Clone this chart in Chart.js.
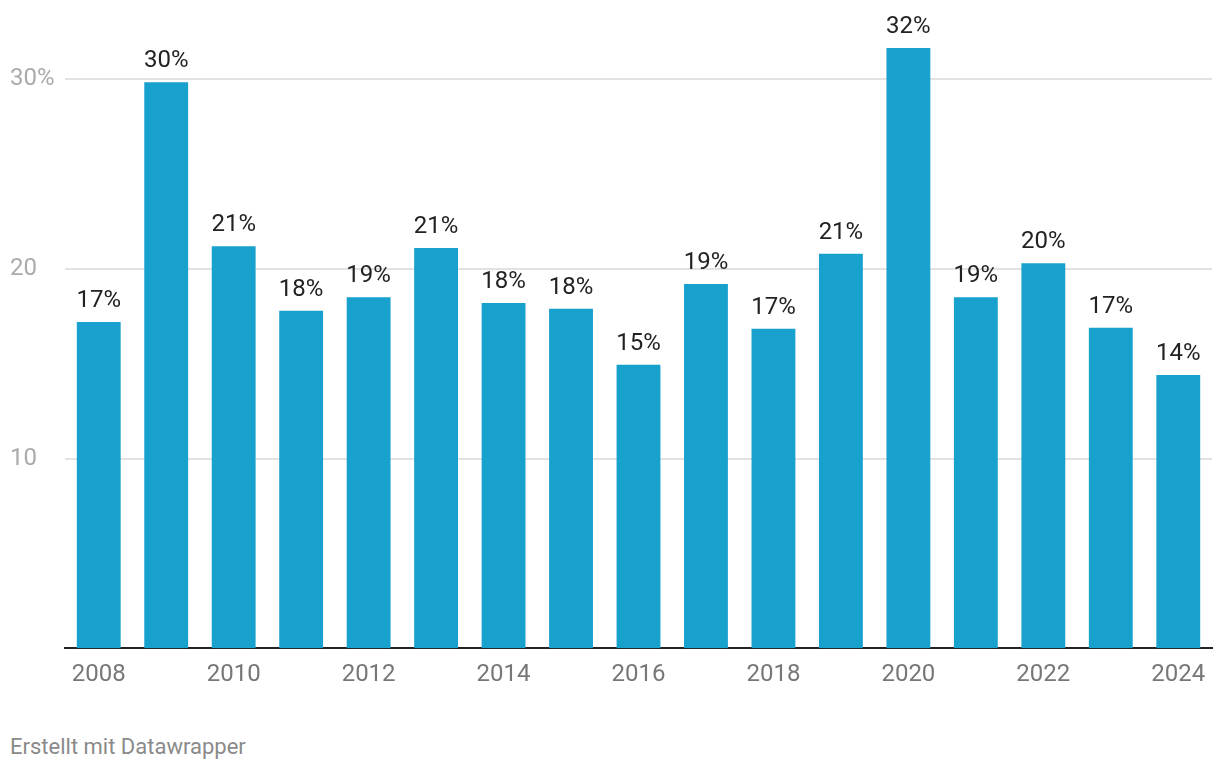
<!DOCTYPE html>
<html>
<head>
<meta charset="utf-8">
<script src="https://cdn.jsdelivr.net/npm/chart.js@4"></script>
<style>
    body { margin: 0; background: #fff; }
    .wrap { position: relative; width: 1220px; height: 770px; }
    .footer {
        position: absolute; left: 10px; top: 734px;
        font: 22px Roboto, sans-serif; color: #8a8a8a;
    }
</style>
</head>
<body>
<div class="wrap">
    <canvas id="myChart" width="1220" height="711"></canvas>
    <div class="footer">Erstellt mit Datawrapper</div>
</div>
<script>
// Jahre und Werte (in %)
const years = ['2008', '2009', '2010', '2011', '2012', '2013', '2014', '2015', '2016',
    '2017', '2018', '2019', '2020', '2021', '2022', '2023', '2024'];
const shares = [17.2, 29.85, 21.2, 17.8, 18.5, 21.1, 18.2, 17.9, 14.95,
    19.2, 16.85, 20.8, 31.65, 18.5, 20.3, 16.9, 14.4];
const yTicks = [10, 20, 30];

const barColor = '#18a1cd';

// Werte über die Balken schreiben
const valueLabels = {
    id: 'valueLabels',
    afterDatasetsDraw(chart) {
        const ctx = chart.ctx;
        const meta = chart.getDatasetMeta(0);
        ctx.save();
        ctx.font = '24px Roboto, sans-serif';
        ctx.fillStyle = '#222';
        ctx.textAlign = 'center';
        ctx.textBaseline = 'alphabetic';
        meta.data.forEach(function (bar, i) {
            ctx.fillText(Math.round(shares[i]) + '%', bar.x, bar.y - 15);
        });
        ctx.restore();
    }
};

const ctx = document.getElementById('myChart').getContext('2d');
const myChart = new Chart(ctx, {
    type: 'bar',
    data: {
        labels: years,
        datasets: [{
            data: shares,
            backgroundColor: barColor,
            barPercentage: 0.65,
            categoryPercentage: 1
        }]
    },
    plugins: [valueLabels],
    options: {
        responsive: false,
        animation: false,
        layout: { padding: { left: 10, right: 8, top: 22, bottom: 10 } },
        plugins: {
            legend: { display: false },
            tooltip: { enabled: false }
        },
        scales: {
            x: {
                grid: { display: false, drawTicks: false },
                border: { display: true, color: '#222', width: 2 },
                ticks: {
                    autoSkip: false,
                    maxRotation: 0,
                    padding: 12,
                    color: '#777',
                    font: { family: 'Roboto', size: 24 },
                    callback: function (val, i) {
                        return i % 2 === 0 ? years[i] : '';
                    }
                }
            },
            y: {
                min: 0,
                max: 33,
                afterBuildTicks: function (scale) {
                    scale.ticks = yTicks.map(v => ({ value: v }));
                },
                afterFit: function (scale) {
                    scale.width = 55;
                },
                grid: { color: '#e2e2e2', lineWidth: 2, drawTicks: false },
                border: { display: false },
                ticks: {
                    crossAlign: 'far',
                    padding: 8,
                    color: '#aaa',
                    font: { family: 'Roboto', size: 24 },
                    callback: function (val) {
                        return val === 30 ? '30%' : val;
                    }
                }
            }
        }
    }
});
</script>
</body>
</html>
